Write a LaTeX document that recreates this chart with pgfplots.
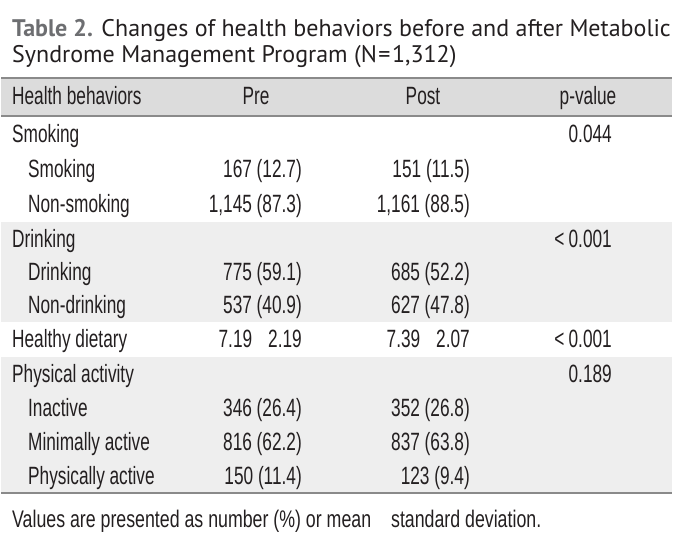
\documentclass[border=0pt]{standalone}
\usepackage{pgfplots}
\pgfplotsset{compat=1.18}
\usepackage{pgfplotstable}
\usepackage{fontspec}
\setmainfont{Liberation Sans}
\newfontfamily\cond[FakeStretch=0.69]{Liberation Sans}
\newfontfamily\condf[FakeStretch=0.74]{Liberation Sans}
\newfontfamily\titlefont{PT Sans}
\definecolor{hdr}{HTML}{DCDCDC}
\definecolor{blk}{HTML}{EEEEEE}
\definecolor{rulec}{HTML}{8A8A8A}
\definecolor{txt}{HTML}{231F20}
\definecolor{tgray}{HTML}{6D6E71}

% row labels (left aligned)
\pgfplotstableread[col sep=semicolon]{
x;y;t
12;105;Health behaviors
12;142;Smoking
28;177;Smoking
28;212;Non-smoking
12;247;Drinking
28;280;Drinking
28;313;Non-drinking
12;347.5;Healthy dietary
12;382;Physical activity
28;416;Inactive
28;450;Minimally active
28;484;Physically active
}\rowlabels

% column headers (centred)
\pgfplotstableread[col sep=semicolon]{
x;y;t
256;105;Pre
423;105;Post
588;105;p-value
}\headers

% Pre values (right aligned)
\pgfplotstableread[col sep=semicolon]{
x;y;t
302;177;167 (12.7)
302;212;1,145 (87.3)
302;280;775 (59.1)
302;313;537 (40.9)
302;347.5;7.19\hspace{16bp}2.19
302;416;346 (26.4)
302;450;816 (62.2)
302;484;150 (11.4)
}\pre

% Post values (right aligned)
\pgfplotstableread[col sep=semicolon]{
x;y;t
470;177;151 (11.5)
470;212;1,161 (88.5)
470;280;685 (52.2)
470;313;627 (47.8)
470;347.5;7.39\hspace{16bp}2.07
470;416;352 (26.8)
470;450;837 (63.8)
470;484;123 (9.4)
}\post

% p-values (right aligned)
\pgfplotstableread[col sep=semicolon]{
x;y;t
612;142;0.044
612;247;<\,0.001
612;347.5;<\,0.001
612;382;0.189
}\pval

\begin{document}
\begin{tikzpicture}
\begin{axis}[
  name=ax,
  width=691bp, height=537bp, scale only axis,
  xmin=0, xmax=691, ymin=0, ymax=537, y dir=reverse,
  hide axis, clip=false,
  every node near coord/.append style={inner sep=0pt, text=txt, font=\cond\fontsize{25bp}{29bp}\selectfont},
]
% backgrounds
\addplot[fill=hdr, draw=none] coordinates {(1,78) (672,78) (672,116) (1,116)} -- cycle;
\addplot[fill=blk, draw=none] coordinates {(1,222) (672,222) (672,322) (1,322)} -- cycle;
\addplot[fill=blk, draw=none] coordinates {(1,357) (672,357) (672,493) (1,493)} -- cycle;
% rules
\addplot[rulec, line width=1.6bp] coordinates {(1,78) (672,78)};
\addplot[rulec, line width=1.4bp] coordinates {(1,116) (672,116)};
\addplot[rulec, line width=1.6bp] coordinates {(1,493) (672,493)};
% texts
\addplot[draw=none, mark=none, nodes near coords, point meta=explicit symbolic,
  nodes near coords align={anchor=base west}] table[x=x, y=y, meta=t] {\rowlabels};
\addplot[draw=none, mark=none, nodes near coords, point meta=explicit symbolic,
  nodes near coords align={anchor=base}] table[x=x, y=y, meta=t] {\headers};
\addplot[draw=none, mark=none, nodes near coords, point meta=explicit symbolic,
  nodes near coords align={anchor=base east}] table[x=x, y=y, meta=t] {\pre};
\addplot[draw=none, mark=none, nodes near coords, point meta=explicit symbolic,
  nodes near coords align={anchor=base east}] table[x=x, y=y, meta=t] {\post};
\addplot[draw=none, mark=none, nodes near coords, point meta=explicit symbolic,
  nodes near coords align={anchor=base east}] table[x=x, y=y, meta=t] {\pval};
% title and footnote
\node[anchor=base west, inner sep=0pt, text=txt, font=\titlefont\fontsize{24bp}{28bp}\selectfont] at (axis cs:12,37)
  {{\bfseries\color{tgray}Table 2.} Changes of health behaviors before and after Metabolic};
\node[anchor=base west, inner sep=0pt, text=txt, font=\titlefont\fontsize{24bp}{28bp}\selectfont] at (axis cs:12,63)
  {Syndrome Management Program (N\hspace{1.5bp}=\hspace{1.5bp}1,312)};
\node[anchor=base west, inner sep=0pt, text=txt, font=\condf\fontsize{24bp}{28bp}\selectfont] at (axis cs:12,527)
  {Values are presented as number (\%) or mean\hspace{20bp}standard deviation.};
\end{axis}
\pgfresetboundingbox
\path[use as bounding box] (ax.south west) rectangle (ax.north east);
\end{tikzpicture}
\end{document}
